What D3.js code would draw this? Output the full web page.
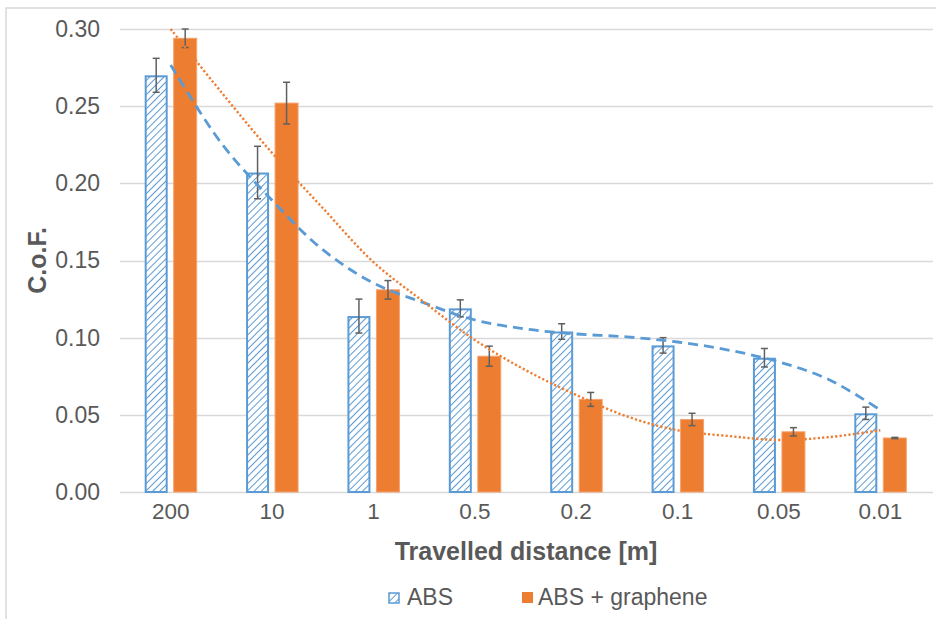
<!DOCTYPE html>
<html><head><meta charset="utf-8">
<script src="https://cdn.jsdelivr.net/npm/d3@7"></script>
<style>
html,body{margin:0;padding:0;background:#fff;}
svg{display:block;font-family:"Liberation Sans",Arial,Helvetica,sans-serif;}
</style></head>
<body><svg id="chart" width="936" height="619"></svg>
<script>
const categories = ["200","10","1","0.5","0.2","0.1","0.05","0.01"];
const seriesNames = ["ABS","ABS + graphene"];
const absValues = [0.270,0.207,0.114,0.119,0.104,0.095,0.087,0.051];
const absErrors = [0.011,0.017,0.011,0.0055,0.005,0.005,0.006,0.004];
const grpValues = [0.294,0.252,0.131,0.088,0.060,0.047,0.039,0.035];
const grpErrors = [0.006,0.0135,0.006,0.0065,0.0045,0.004,0.0027,0.0004];
const yTicks = [0,0.05,0.10,0.15,0.20,0.25,0.30];
// trendline values read at half-category positions (0 = "200", 7 = "0.01")
const trendPos = [0,0.5,1,1.5,2,2.5,3,3.5,4,4.5,5,5.5,6,6.5,7];
const absTrend = [0.2767,0.226,0.189,0.157,0.1354,0.1225,0.1115,0.1056,0.1024,0.1005,0.0972,0.092,0.0843,0.0726,0.0531];
const grpTrend = [0.300,0.259,0.2197,0.184,0.149,0.123,0.0985,0.079,0.0629,0.049,0.040,0.0363,0.0337,0.0356,0.040];

const blue = "#5B9BD5", orange = "#ED7D31", txt = "#595959", grid = "#d9d9d9";
const svg = d3.select("#chart");
const L = 120, R = 931, T = 29, B = 492;

// outer chart border
svg.append("rect").attr("x",6).attr("y",8).attr("width",960).attr("height",660)
  .attr("fill","none").attr("stroke","#d9d9d9").attr("stroke-width",1.5);

const defs = svg.append("defs");
const pat = defs.append("pattern").attr("id","hatch").attr("patternUnits","userSpaceOnUse")
  .attr("width",5).attr("height",5).attr("patternTransform","rotate(45)");
pat.append("rect").attr("width",5).attr("height",5).attr("fill","#fff");
pat.append("line").attr("x1",0).attr("y1",0).attr("x2",0).attr("y2",5)
  .attr("stroke",blue).attr("stroke-width",2);

const x = d3.scaleBand().domain(categories).range([L,R]).padding(0);
const bw = x.bandwidth();
const x1 = d3.scaleBand().domain(seriesNames).range([bw/2-26, bw/2+26]).paddingInner(0.207);
const y = d3.scaleLinear().domain([0,0.30]).range([B,T]);
const xt = d3.scaleLinear().domain([0,7]).range([x(categories[0])+bw/2, x(categories[7])+bw/2]);

// gridlines
svg.append("g").selectAll("line").data(yTicks).join("line")
  .attr("x1",L).attr("x2",933).attr("y1",d=>Math.round(y(d))+0.5).attr("y2",d=>Math.round(y(d))+0.5)
  .attr("stroke",grid).attr("stroke-width",1.3);

// y axis labels
const yAxis = d3.axisLeft(y).tickValues(yTicks).tickFormat(d3.format(".2f")).tickSize(0).tickPadding(0);
const ga = svg.append("g").attr("transform",`translate(100,0)`).call(yAxis);
ga.select(".domain").remove();
ga.selectAll("text").attr("fill",txt).style("font-size","23px");

// x axis labels
const xAxis = d3.axisBottom(x).tickSize(0).tickPadding(0);
const gx = svg.append("g").attr("transform",`translate(0,${B+11})`).call(xAxis);
gx.select(".domain").remove();
gx.selectAll("text").attr("fill",txt).style("font-size","22.5px").attr("dy","0.71em");

// bars
const data = categories.map((c,i)=>({c, vals:[
  {s:seriesNames[0], v:absValues[i], e:absErrors[i]},
  {s:seriesNames[1], v:grpValues[i], e:grpErrors[i]}]}));
const groups = svg.append("g").selectAll("g").data(data).join("g")
  .attr("transform",d=>`translate(${x(d.c)},0)`);
groups.selectAll("rect").data(d=>d.vals).join("rect")
  .attr("x",d=>x1(d.s)+(d.s===seriesNames[0]?1:0))
  .attr("width",d=>x1.bandwidth()-(d.s===seriesNames[0]?2:0))
  .attr("y",d=>y(d.v)+(d.s===seriesNames[0]?1:0))
  .attr("height",d=>B-y(d.v)-(d.s===seriesNames[0]?1:0))
  .attr("fill",d=>d.s===seriesNames[0]?"url(#hatch)":orange)
  .attr("stroke",d=>d.s===seriesNames[0]?blue:"#f4a36f")
  .attr("stroke-width",d=>d.s===seriesNames[0]?2:1);

// trendlines
const line = d3.line().x(d=>xt(d[0])).y(d=>y(d[1])).curve(d3.curveCatmullRom.alpha(0.5));
svg.append("path").datum(trendPos.map((p,i)=>[p,absTrend[i]])).attr("d",line)
  .attr("fill","none").attr("stroke",blue).attr("stroke-width",2.8).attr("stroke-dasharray","10,6");
svg.append("path").datum(trendPos.map((p,i)=>[p,grpTrend[i]])).attr("d",line)
  .attr("fill","none").attr("stroke",orange).attr("stroke-width",2.4).attr("stroke-dasharray","2.2,2.2");

// error bars
const eb = groups.selectAll("g.eb").data(d=>d.vals).join("g").attr("class","eb");
eb.append("line").attr("x1",d=>x1(d.s)+x1.bandwidth()/2).attr("x2",d=>x1(d.s)+x1.bandwidth()/2)
  .attr("y1",d=>y(d.v+d.e)).attr("y2",d=>y(d.v-d.e)).attr("stroke","#606060").attr("stroke-width",1.5);
eb.selectAll("line.cap").data(d=>[{d,v:d.v+d.e},{d,v:d.v-d.e}]).join("line").attr("class","cap")
  .attr("x1",o=>x1(o.d.s)+x1.bandwidth()/2-3.5).attr("x2",o=>x1(o.d.s)+x1.bandwidth()/2+3.5)
  .attr("y1",o=>y(o.v)).attr("y2",o=>y(o.v)).attr("stroke","#606060").attr("stroke-width",1.5);

// axis titles
svg.append("text").attr("x",526).attr("y",560).attr("text-anchor","middle")
  .attr("fill",txt).style("font-size","25px").style("font-weight","bold").text("Travelled distance [m]");
svg.append("text").attr("transform",`translate(46,${(T+B)/2}) rotate(-90)`).attr("text-anchor","middle")
  .attr("fill",txt).style("font-size","25px").style("font-weight","bold").text("C.o.F.");

// legend
const leg = svg.append("g");
const legItems = [{s:seriesNames[0], x:388},{s:seriesNames[1], x:522}];
legItems.forEach(it=>{
  const isAbs = it.s===seriesNames[0];
  leg.append("rect").attr("x",it.x+(isAbs?1:0)).attr("y",592+(isAbs?1:0))
    .attr("width",isAbs?10:11).attr("height",isAbs?10:11)
    .attr("fill",isAbs?"url(#hatch)":orange).attr("stroke",isAbs?blue:"none").attr("stroke-width",isAbs?1.5:0);
  leg.append("text").attr("x",it.x+(isAbs?19:16)).attr("y",605).attr("fill",txt).style("font-size","23px").text(it.s);
});
</script></body></html>
